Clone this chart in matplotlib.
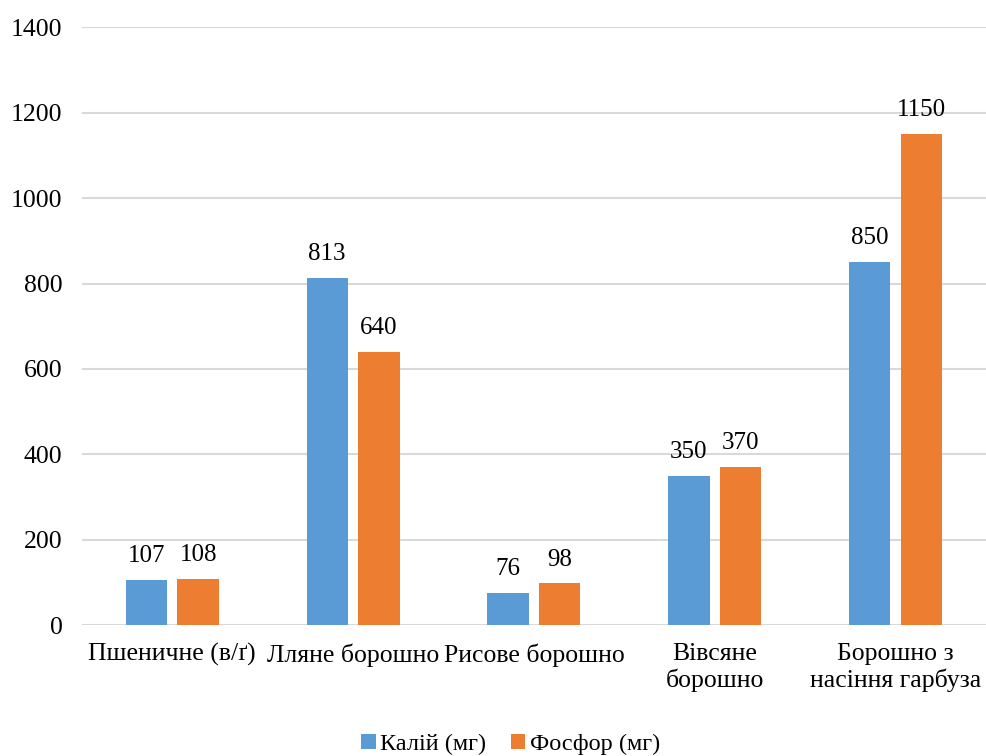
import matplotlib
matplotlib.use('Agg')
import matplotlib.pyplot as plt
import numpy as np

plt.rcParams['font.family'] = ['Liberation Serif', 'DejaVu Serif']

categories = ['Пшеничне (в/ґ)', 'Лляне борошно', 'Рисове борошно',
              'Вівсяне\nборошно', 'Борошно з\nнасіння гарбуза']
potassium = [107, 813, 76, 350, 850]
phosphorus = [108, 640, 98, 370, 1150]
series_names = ['Калій (мг)', 'Фосфор (мг)']
yticks = [0, 200, 400, 600, 800, 1000, 1200, 1400]

blue, orange = '#5B9BD5', '#ED7D31'

fig = plt.figure(figsize=(9.86, 7.56), dpi=100)
ax = fig.add_axes([0.083, 0.173, 0.917, 0.791])

x = np.arange(len(categories))
w = 0.228
off = 0.143
b1 = ax.bar(x - off, potassium, w, color=blue, label=series_names[0], zorder=3)
b2 = ax.bar(x + off, phosphorus, w, color=orange, label=series_names[1], zorder=3)

for bars, vals in ((b1, potassium), (b2, phosphorus)):
    for r, v in zip(bars, vals):
        ax.text(r.get_x() + r.get_width() / 2, v + 30, str(v),
                ha='center', va='bottom', fontsize=18)

ax.set_xlim(-0.5, len(categories) - 0.5)
ax.set_ylim(0, 1400)
ax.set_yticks(yticks)
ax.set_yticklabels([str(t) for t in yticks], fontsize=18.5)
ax.set_xticks(x)
ax.set_xticklabels(categories, fontsize=18.5, linespacing=1.15)
ax.tick_params(length=0)
ax.tick_params(axis='y', pad=14)
ax.tick_params(axis='x', pad=13)
ax.grid(axis='y', color='#D9D9D9', linewidth=1.5, zorder=0)
for s in ax.spines.values():
    s.set_visible(False)

fig.legend(loc='lower center', bbox_to_anchor=(0.518, -0.028), ncol=2, frameon=False,
           fontsize=17.5, handlelength=0.6, handleheight=0.6, handletextpad=0.2,
           columnspacing=1.0)

fig.savefig('out.png', dpi=100, facecolor='white')
